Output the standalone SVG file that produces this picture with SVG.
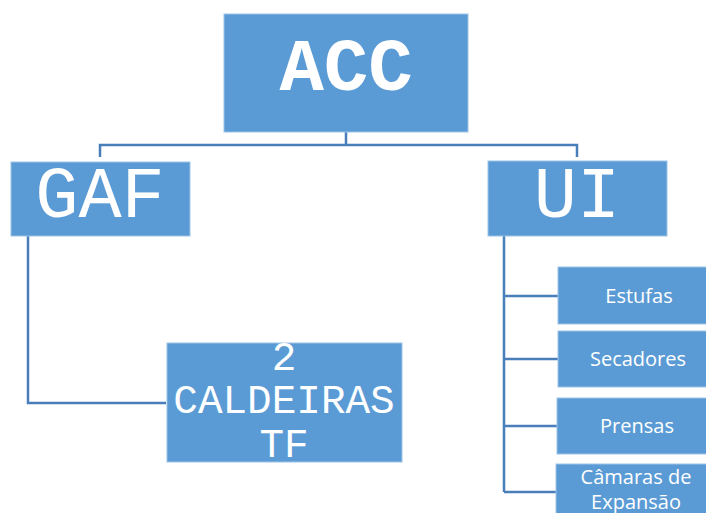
<svg xmlns="http://www.w3.org/2000/svg" width="706" height="513" viewBox="0 0 706 513">
<style>
.box{fill:#5B9BD5;stroke:#9DC3E6;stroke-width:1}
.conn{fill:none;stroke:#4A7EBB;stroke-width:2.5}
.mono{font-family:"Courier New","Nimbus Mono PS","FreeMono","Liberation Mono",monospace;fill:#fff;text-anchor:middle}
.sans{font-family:"Open Sans","Noto Sans",sans-serif;fill:#fff;text-anchor:middle;font-size:20px}
</style>
<rect width="706" height="513" fill="#fff"/>
<g id="connectors">
<path class="conn" d="M346 132V145M100 157V145H577V157"/>
<path class="conn" d="M28 236V403H166"/>
<path class="conn" d="M504 236V492M504 296H558M504 359H558M504 426H557M504 492H556"/>
</g>
<g id="acc"><rect class="box" x="224" y="14" width="244" height="118"/><text class="mono" x="346" y="90" font-size="74" font-weight="bold">ACC</text></g>
<g id="gaf"><rect class="box" x="11" y="162" width="179" height="74"/><text class="mono" x="100" y="217" font-size="72">GAF</text></g>
<g id="ui"><rect class="box" x="488" y="161" width="179" height="75"/><text class="mono" x="577" y="217" font-size="72">UI</text></g>
<g id="caldeiras"><rect class="box" x="167" y="343" width="235" height="119"/><text class="mono" font-size="41"><tspan x="284" y="370">2</tspan><tspan x="284" y="413">CALDEIRAS</tspan><tspan x="284" y="457">TF</tspan></text></g>
<g id="estufas"><rect class="box" x="558" y="267" width="150" height="57"/><text class="sans" x="639" y="303">Estufas</text></g>
<g id="secadores"><rect class="box" x="558" y="331" width="150" height="56"/><text class="sans" x="638" y="366">Secadores</text></g>
<g id="prensas"><rect class="box" x="557" y="398" width="151" height="56"/><text class="sans" x="637" y="433">Prensas</text></g>
<g id="camaras"><rect class="box" x="556" y="464" width="152" height="52"/><text class="sans"><tspan x="636" y="484">Câmaras de</tspan><tspan x="636" y="509">Expansão</tspan></text></g>
</svg>
